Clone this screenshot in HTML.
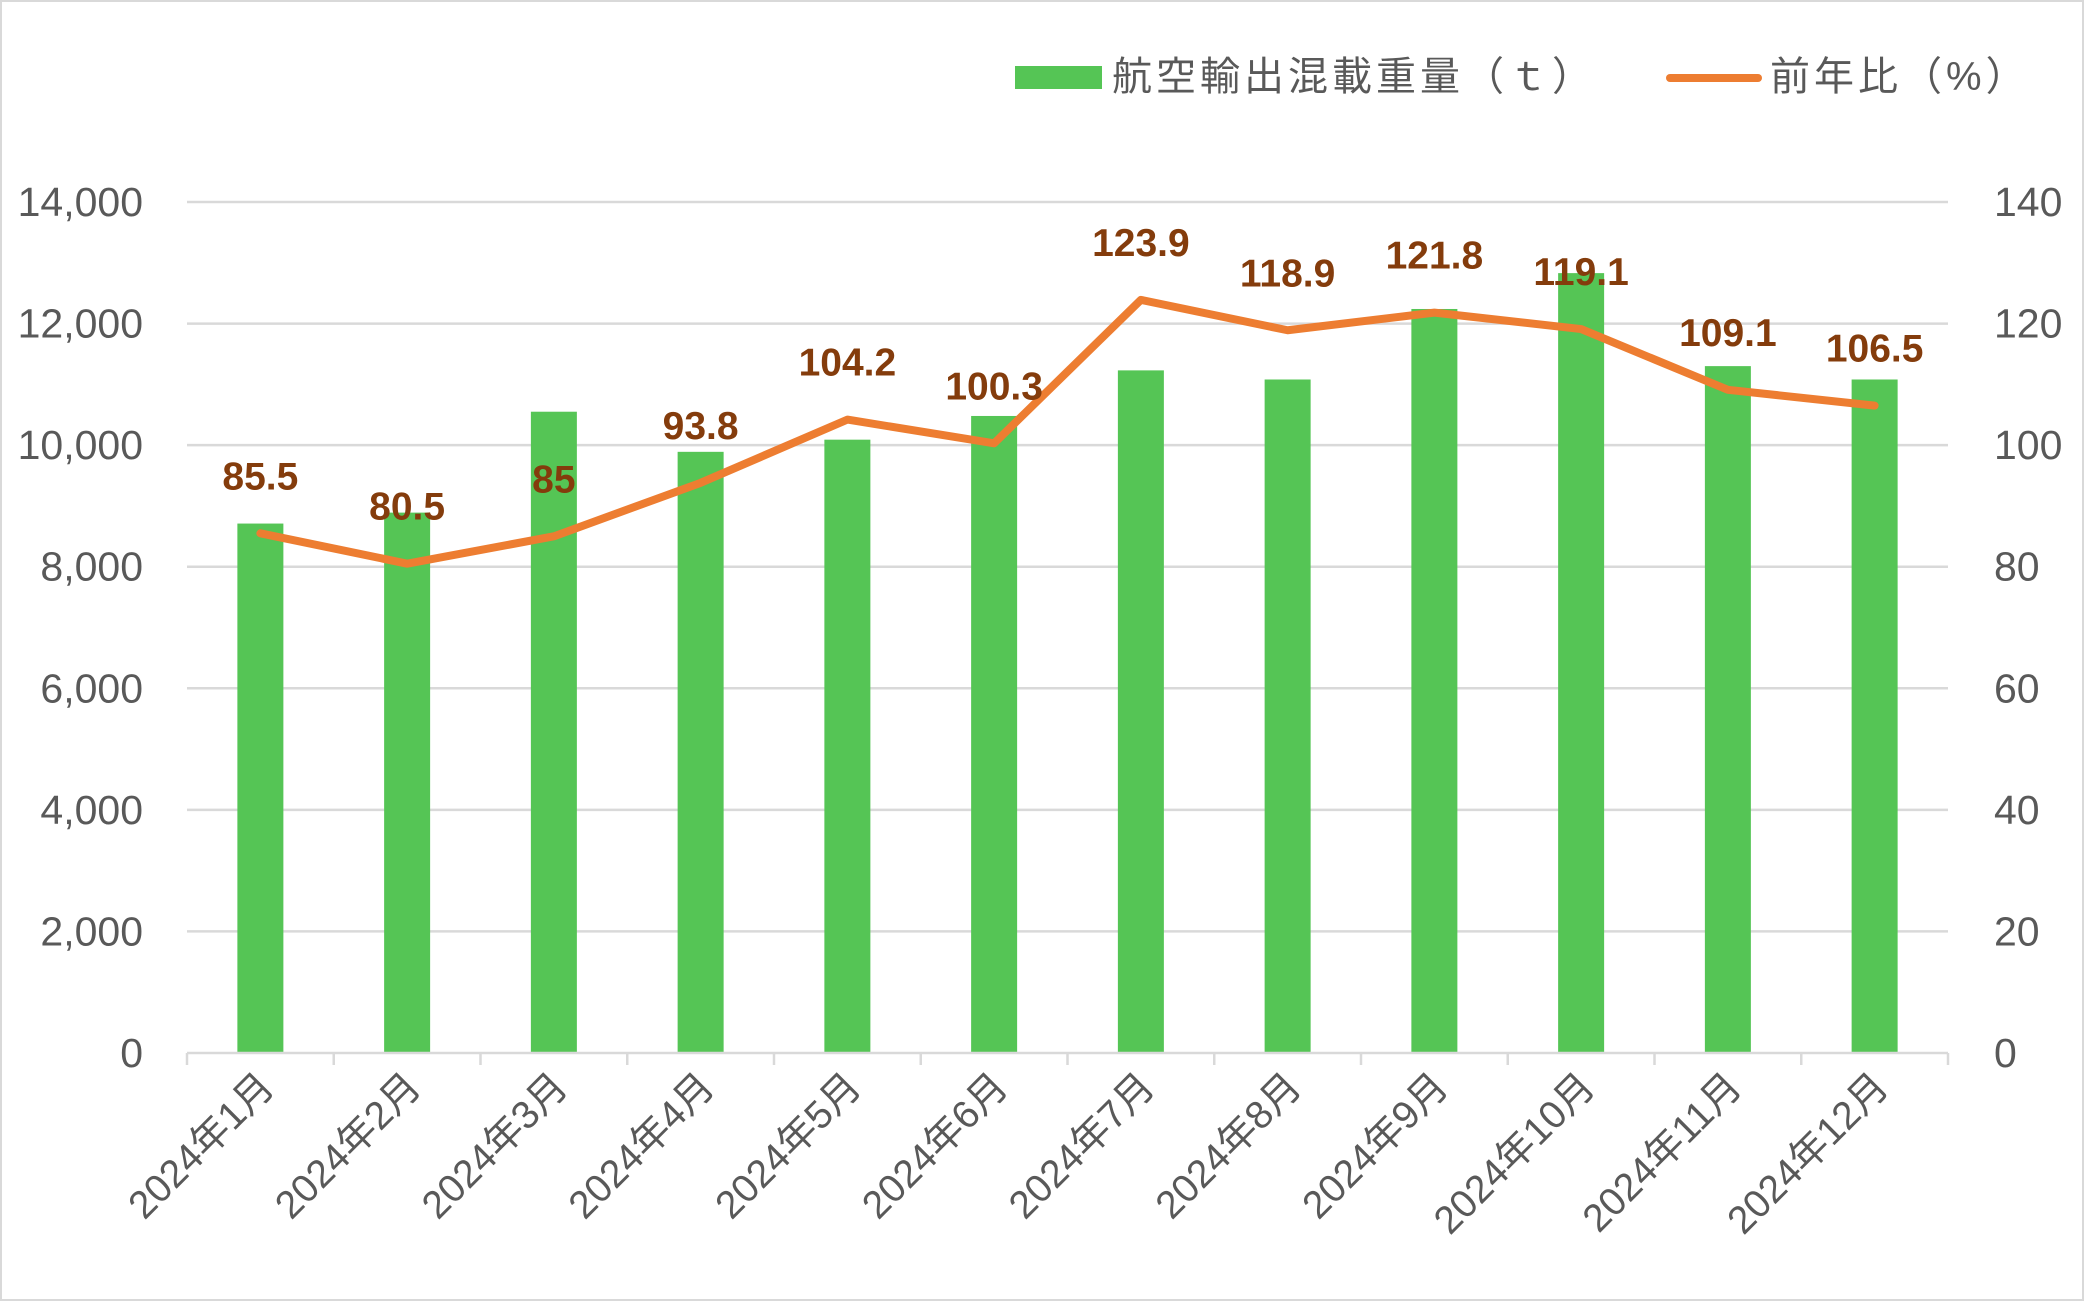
<!DOCTYPE html>
<html><head><meta charset="utf-8"><style>
body{margin:0;background:#fff}
svg text{font-family:"Liberation Sans","Noto Sans CJK JP",sans-serif}
</style></head><body>
<svg id="chart" width="2084" height="1301" xmlns="http://www.w3.org/2000/svg">
<rect x="1" y="1" width="2082" height="1299" fill="#fff" stroke="#d9d9d9" stroke-width="2"/>
<g id="grid"></g><g id="bars"></g><g id="axes"></g><g id="line"></g><g id="labels"></g>
<g>
<rect x="1015" y="66" width="87" height="23" fill="#55c555"/>
<text x="1112" y="90" font-size="40" letter-spacing="4" fill="#595959">航空輸出混載重量（ｔ）</text>
<line x1="1670" y1="78" x2="1758" y2="78" stroke="#ed7d31" stroke-width="8" stroke-linecap="round"/>
<text x="1770" y="90" font-size="40" letter-spacing="4" fill="#595959">前年比（%）</text>
</g>
</svg>
<script>
const categories=["2024年1月","2024年2月","2024年3月","2024年4月","2024年5月","2024年6月","2024年7月","2024年8月","2024年9月","2024年10月","2024年11月","2024年12月"];
const weights=[8710,8890,10550,9890,10090,10480,11230,11080,12240,12830,11300,11080];
const ratios=[85.5,80.5,85,93.8,104.2,100.3,123.9,118.9,121.8,119.1,109.1,106.5];
const leftTicks=[0,2000,4000,6000,8000,10000,12000,14000];
const rightTicks=[0,20,40,60,80,100,120,140];
const NS="http://www.w3.org/2000/svg";
const L=187,R=1948,Y0=1053,YT=202;
const bw=(R-L)/categories.length;
const xC=i=>L+bw*(i+0.5);
const yL=v=>Y0-(v/14000)*(Y0-YT);
const yR=v=>Y0-(v/140)*(Y0-YT);
function mk(tag,attrs,parent,txt){const e=document.createElementNS(NS,tag);for(const k in attrs)e.setAttribute(k,attrs[k]);if(txt!==undefined)e.textContent=txt;document.getElementById(parent).appendChild(e);return e;}
leftTicks.forEach((t,i)=>{
  if(t>0){const g=mk('line',{x1:L,x2:R,y1:yL(t),y2:yL(t),stroke:'#d9d9d9','stroke-width':2.5},'grid');
  
  }
  const a=mk('text',{x:143,y:yL(t)+14,'font-size':41,fill:'#595959','text-anchor':'end'},'axes',t.toLocaleString('en-US'));
  
  
  const b=mk('text',{x:1994,y:yR(rightTicks[i])+14,'font-size':41,fill:'#595959'},'axes',String(rightTicks[i]));
  
  
});
const ax=mk('line',{x1:L,x2:R,y1:Y0,y2:Y0,stroke:'#d9d9d9','stroke-width':2.5},'axes');


for(let i=0;i<=categories.length;i++){
  const tk=mk('line',{x1:L+bw*i,x2:L+bw*i,y1:Y0,y2:Y0+12,stroke:'#d9d9d9','stroke-width':2.5},'axes');
  
  
}
categories.forEach((c,i)=>{
  const b=mk('rect',{x:xC(i)-23,y:yL(weights[i]),width:46,height:Y0-yL(weights[i]),fill:'#55c555'},'bars');
  
  
  const x=xC(i)+16,y=Y0+36;
  const t=mk('text',{x:x,y:y,'font-size':39,fill:'#595959','text-anchor':'end',transform:`rotate(-45 ${x} ${y})`},'axes',c);
  
  
});
const pts=ratios.map((v,i)=>xC(i)+','+yR(v)).join(' ');
const pl=mk('polyline',{points:pts,fill:'none',stroke:'#ed7d31','stroke-width':8,'stroke-linejoin':'round','stroke-linecap':'round'},'line');


ratios.forEach((v,i)=>{
  const t=mk('text',{x:xC(i),y:yR(v)-44,'font-size':39,'font-weight':'bold',fill:'#843c0c','text-anchor':'middle'},'labels',String(v));
  
  
});
</script>
</body></html>
